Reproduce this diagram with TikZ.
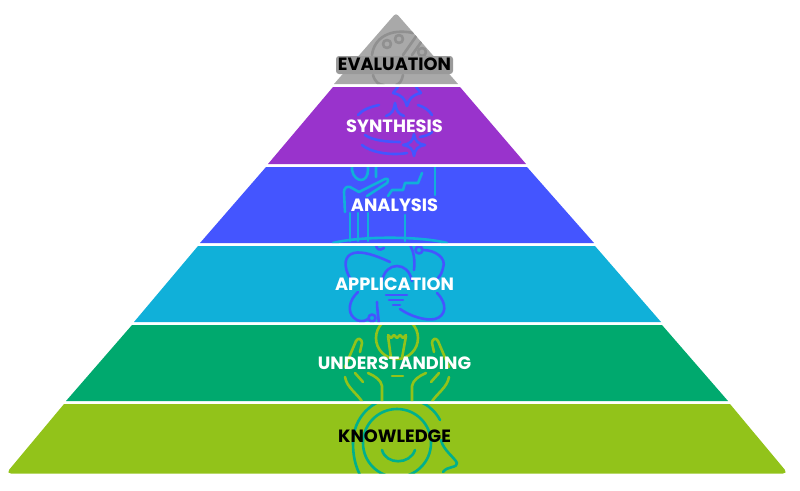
\documentclass[tikz,border=0pt]{standalone}
\usepackage{fontspec}
\setsansfont{Poppins}
\usepackage{tikz}
\definecolor{evalgray}{HTML}{A9A9A9}
\definecolor{evalicon}{HTML}{909090}
\definecolor{synthpurple}{HTML}{9933CC}
\definecolor{analysisblue}{HTML}{4455FF}
\definecolor{appcyan}{HTML}{10B0D9}
\definecolor{undgreen}{HTML}{00A96E}
\definecolor{knowlime}{HTML}{92C31A}
\definecolor{knowteal}{HTML}{00B08C}
\tikzset{
  layerlabel/.style={font=\sffamily\bfseries\fontsize{17.8}{20}\selectfont, inner sep=1pt, text=white},
  iconline/.style={line width=2.6pt, line cap=round, line join=round}
}
\begin{document}
\begin{tikzpicture}[x=1pt, y=-1pt]
\useasboundingbox (0,0) rectangle (800,490);

% Layer 1: Evaluation
\begin{scope}
\clip (334,84) [rounded corners=3pt] -- (396,13) [sharp corners] -- (458,84) -- cycle;
\fill[evalgray] (300,0) rectangle (500,90);
\draw[iconline, evalicon] (372,55) .. controls (374,38) and (390,28) .. (413,33);
\draw[iconline, evalicon] (387,44) circle (4pt) (399,39) circle (4pt) (422,52) circle (4pt);
\draw[iconline, evalicon] (403,55) -- (417,35) (412,55) -- (424,38);
\draw[iconline, evalicon] (373,75) .. controls (375,82) and (379,85) .. (384,85);
\draw[iconline, evalicon] (396,85) .. controls (400,84) and (402,80) .. (403,75);
\end{scope}
\fill[evalicon!60!evalgray, rounded corners=3pt] (336,56) rectangle (453,74);
\node[layerlabel, text=black] (evaluation) at (394.5,64.5) {EVALUATION};

% Layer 2: Synthesis
\begin{scope}
\clip (333,87) -- (460,87) -- (526,164) -- (268,164) -- cycle;
\fill[synthpurple] (260,80) rectangle (530,170);
\draw[iconline, analysisblue] (393,93) .. controls (402,95) and (405,99) .. (407,106) .. controls (409,99) and (412,95) .. (421,93);
\draw[iconline, analysisblue] (393,93) -- (398,87) (421,93) -- (416,87);
\draw[iconline, analysisblue] (386,116) .. controls (392,114) and (394,110) .. (395,103) .. controls (396,110) and (398,114) .. (404,116);
\draw[iconline, analysisblue] (414,134) .. controls (415,141) and (418,144) .. (425,145) .. controls (418,146) and (415,149) .. (414,156) .. controls (413,149) and (410,146) .. (403,145) .. controls (410,144) and (413,141) .. (414,134);
\draw[iconline, analysisblue] (358,115) .. controls (362,110) and (370,107) .. (379,105);
\draw[iconline, analysisblue] (418,105) .. controls (424,107) and (429,110) .. (432,115);
\draw[iconline, analysisblue] (365,135) .. controls (372,140) and (385,142) .. (400,142);
\draw[iconline, analysisblue] (362,145) .. controls (370,152) and (390,156) .. (407,153);
\draw[iconline, analysisblue] (420,137) .. controls (425,136) and (429,135) .. (432,132);
\end{scope}
\node[layerlabel] (synthesis) at (394.5,126) {SYNTHESIS};

% Layer 3: Analysis
\begin{scope}
\clip (266,167) -- (527,167) -- (594,243) -- (200,243) -- cycle;
\fill[analysisblue] (190,160) rectangle (600,250);
\draw[iconline, appcyan] (352,165) -- (352,170) .. controls (353,177) and (358,180) .. (361,180) .. controls (365,180) and (368,176) .. (368,170) -- (368,165) (376,165) -- (376,177);
\draw[iconline, appcyan] (350,213) -- (350,241) (358,213) -- (358,241) (368,213) -- (368,241) (405,215) -- (405,241);
\draw[iconline, appcyan] (345,212) -- (344,192) .. controls (344,188) and (347,186) .. (350,187) -- (359,192) -- (385,179) .. controls (388,178) and (389,180) .. (387,183) -- (367,196);
\draw[iconline, appcyan] (388,196) -- (392,190) -- (403,190) -- (405,183) -- (418,183) -- (422,173);
\draw[iconline, appcyan] (435,165) -- (435,195);
\draw[iconline, appcyan] (333,243) .. controls (360,236) and (420,236) .. (447,243);
\end{scope}
\node[layerlabel] (analysis) at (394.5,205) {ANALYSIS};

% Layer 4: Application
\begin{scope}
\clip (198,246) -- (595,246) -- (661,322) -- (134,322) -- cycle;
\fill[appcyan] (130,240) rectangle (670,330);
\draw[iconline, analysisblue] (390,262) .. controls (375,255) and (362,251) .. (354,253) .. controls (345,255) and (342,265) .. (351,280);
\draw[iconline, analysisblue] (376,244) .. controls (376,250) and (380,251) .. (384,248);
\draw[iconline, analysisblue] (419,250) circle (3.5pt);
\draw[iconline, analysisblue] (423,250) .. controls (435,250) and (447,258) .. (443,268) .. controls (442,272) and (441,275) .. (438,278);
\draw[iconline, analysisblue] (410,245) .. controls (414,252) and (415,260) .. (414,270);
\draw[iconline, analysisblue] (382,281) .. controls (384,271) and (390,266) .. (397,266) .. controls (404,266) and (410,271) .. (412,281);
\draw[iconline, analysisblue] (386,295) -- (407,295) (389,300) -- (403,300) (393,305) -- (400,305);
\draw[iconline, analysisblue] (358,292) .. controls (349,300) and (347,312) .. (354,318) .. controls (358,322) and (364,322) .. (368,319);
\draw[iconline, analysisblue] (372,318) circle (3.5pt);
\draw[iconline, analysisblue] (377,302) .. controls (377,308) and (378,314) .. (379,324);
\draw[iconline, analysisblue] (400,309) .. controls (410,316) and (425,321) .. (435,319) .. controls (446,316) and (448,304) .. (437,293);
\end{scope}
\node[layerlabel] (application) at (394.5,284.5) {APPLICATION};

% Layer 5: Understanding
\begin{scope}
\clip (132,325) -- (662,325) -- (728,401) -- (66,401) -- cycle;
\fill[undgreen] (60,320) rectangle (735,405);
\draw[iconline, knowlime] (397,338) circle (21pt);
\draw[iconline, knowlime] (388,335) -- (391,338) -- (394,335) -- (397,338) -- (400,335) -- (403,338) -- (406,335);
\draw[iconline, knowlime] (388,336) -- (391,358) (406,336) -- (402,358);
\draw[iconline, knowlime] (392,376) -- (403,376);
\foreach \s in {1,-1} {
  \draw[iconline, knowlime] (397-\s*52,367) -- (397-\s*41,341) .. controls (397-\s*39,337) and (397-\s*35,339) .. (397-\s*35,343) -- (397-\s*37,352);
  \draw[iconline, knowlime] (397-\s*52,377) .. controls (397-\s*50,388) and (397-\s*40,393) .. (397-\s*34,403);
  \draw[iconline, knowlime] (397-\s*42,373) -- (397-\s*34,382);
  \draw[iconline, knowlime] (397-\s*29,373) .. controls (397-\s*22,376) and (397-\s*16,380) .. (397-\s*15,386) -- (397-\s*15,403);
}
\end{scope}
\node[layerlabel] (understanding) at (394.5,363) {UNDERSTANDING};

% Layer 6: Knowledge
\begin{scope}
\clip (64,404) -- (730,404) [rounded corners=5pt] -- (788,473.5) -- (6,473.5) [sharp corners] -- cycle;
\fill[knowlime] (0,400) rectangle (800,480);
\draw[iconline, knowteal] (353,443) .. controls (353,418) and (372,398) .. (397,398) .. controls (418,398) and (432,405) .. (440,420);
\draw[iconline, knowteal] (353,443) .. controls (353,455) and (355,465) .. (360,475);
\draw[iconline, knowteal] (397,443) circle (34pt);
\draw[iconline, knowteal] (382,450) .. controls (386,465) and (410,465) .. (415,450);
\draw[iconline, knowteal] (441,440) .. controls (443,450) and (455,458) .. (457,463) .. controls (458,468) and (447,466) .. (443,472);
\end{scope}
\node[layerlabel, text=black] (knowledge) at (394.5,436) {KNOWLEDGE};
\end{tikzpicture}
\end{document}
